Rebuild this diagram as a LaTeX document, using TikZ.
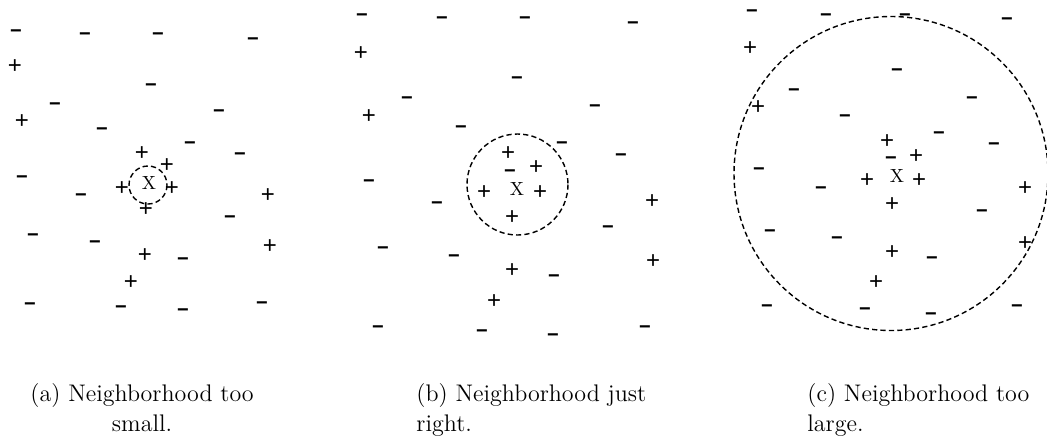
\documentclass[tikz,border=0pt]{standalone}
\usepackage{fontspec}
\newfontfamily\markfont{Liberation Sans}
\usetikzlibrary{calc}

\tikzset{
	posmark/.style={inner sep=0pt, font=\markfont\fontsize{12}{12}\selectfont},
	negmark/.style={inner sep=0pt, font=\markfont\bfseries\fontsize{10}{10}\selectfont},
	querypt/.style={inner sep=0pt, font=\fontsize{9.5}{10}\selectfont},
	nbhd/.style={dashed, dash pattern=on 2.6pt off 1.6pt, line width=0.7pt},
	caption/.style={inner sep=0pt, anchor=north west, font=\fontsize{12}{15}\selectfont}
}

\begin{document}
\begin{tikzpicture}[x=0.5pt,y=-0.5pt]
		\useasboundingbox (0,0) rectangle (1047,435);
		
		% (a) small neighborhood
		\foreach \x/\y [count=\i] in {15/67, 22/122, 142/154, 167/166, 122/189, 172/189, 146/210, 268/196, 270/247, 145/256, 131/283}
		{   \node[posmark] (ap\i) at (\x,\y) {+};
		}
		\foreach \x/\y [count=\i] in {16/34, 85/37, 158/37, 253/42, 151/88, 55/107, 219/114, 102/132, 190/146, 240/157, 22/180, 81/198, 230/220, 33/238, 95/245, 183/262, 30/307, 121/310, 183/313, 262/306}
		{   \node[negmark] (an\i) at (\x,\y) {−};
		}
		\node[querypt] (ax) at (149,183) {X};
		\draw[nbhd] (148,185) circle[radius=19];
		\node[caption, align=center] (acap) at (30,383) {(a) Neighborhood too\\small.};
		
		% (b) just right
		\foreach \x/\y [count=\i] in {361/54, 369/117, 508/154, 536/168, 484/193, 540/193, 652/202, 512/218, 653/262, 512/271, 494/302}
		{   \node[posmark] (bp\i) at (\x,\y) {+};
		}
		\foreach \x/\y [count=\i] in {362/18, 442/21, 525/21, 633/26, 517/81, 407/101, 595/109, 461/130, 562/146, 621/158, 510/174, 369/184, 437/206, 608/230, 383/251, 454/259, 554/279, 378/330, 482/334, 553/338, 645/330}
		{   \node[negmark] (bn\i) at (\x,\y) {−};
		}
		\node[querypt] (bx) at (517,189) {X};
		\draw[nbhd] (517.5,184.5) circle[radius=50.5];
		\node[caption, align=left] (bcap) at (416,383) {(b) Neighborhood just\\right.};
		
		% (c) large neighborhood
		\foreach \x/\y [count=\i] in {750/49, 758/108, 887/142, 916/157, 867/181, 919/181, 1025/189, 892/205, 1025/244, 892/253, 876/283}
		{   \node[posmark] (cp\i) at (\x,\y) {+};
		}
		\foreach \x/\y [count=\i] in {752/14, 826/18, 905/18, 1007/22, 897/73, 794/93, 972/101, 845/119, 939/136, 994/147, 891/161, 759/172, 821/191, 982/214, 770/234, 837/241, 932/261, 767/309, 865/312, 931/317, 1017/309}
		{   \node[negmark] (cn\i) at (\x,\y) {−};
		}
		\node[querypt] (cx) at (897,176) {X};
		\draw[nbhd] (891,173.5) circle[radius=157];
		\node[caption, align=left] (ccap) at (807,383) {(c) Neighborhood too\\large.};
		
	\end{tikzpicture}
\end{document}
